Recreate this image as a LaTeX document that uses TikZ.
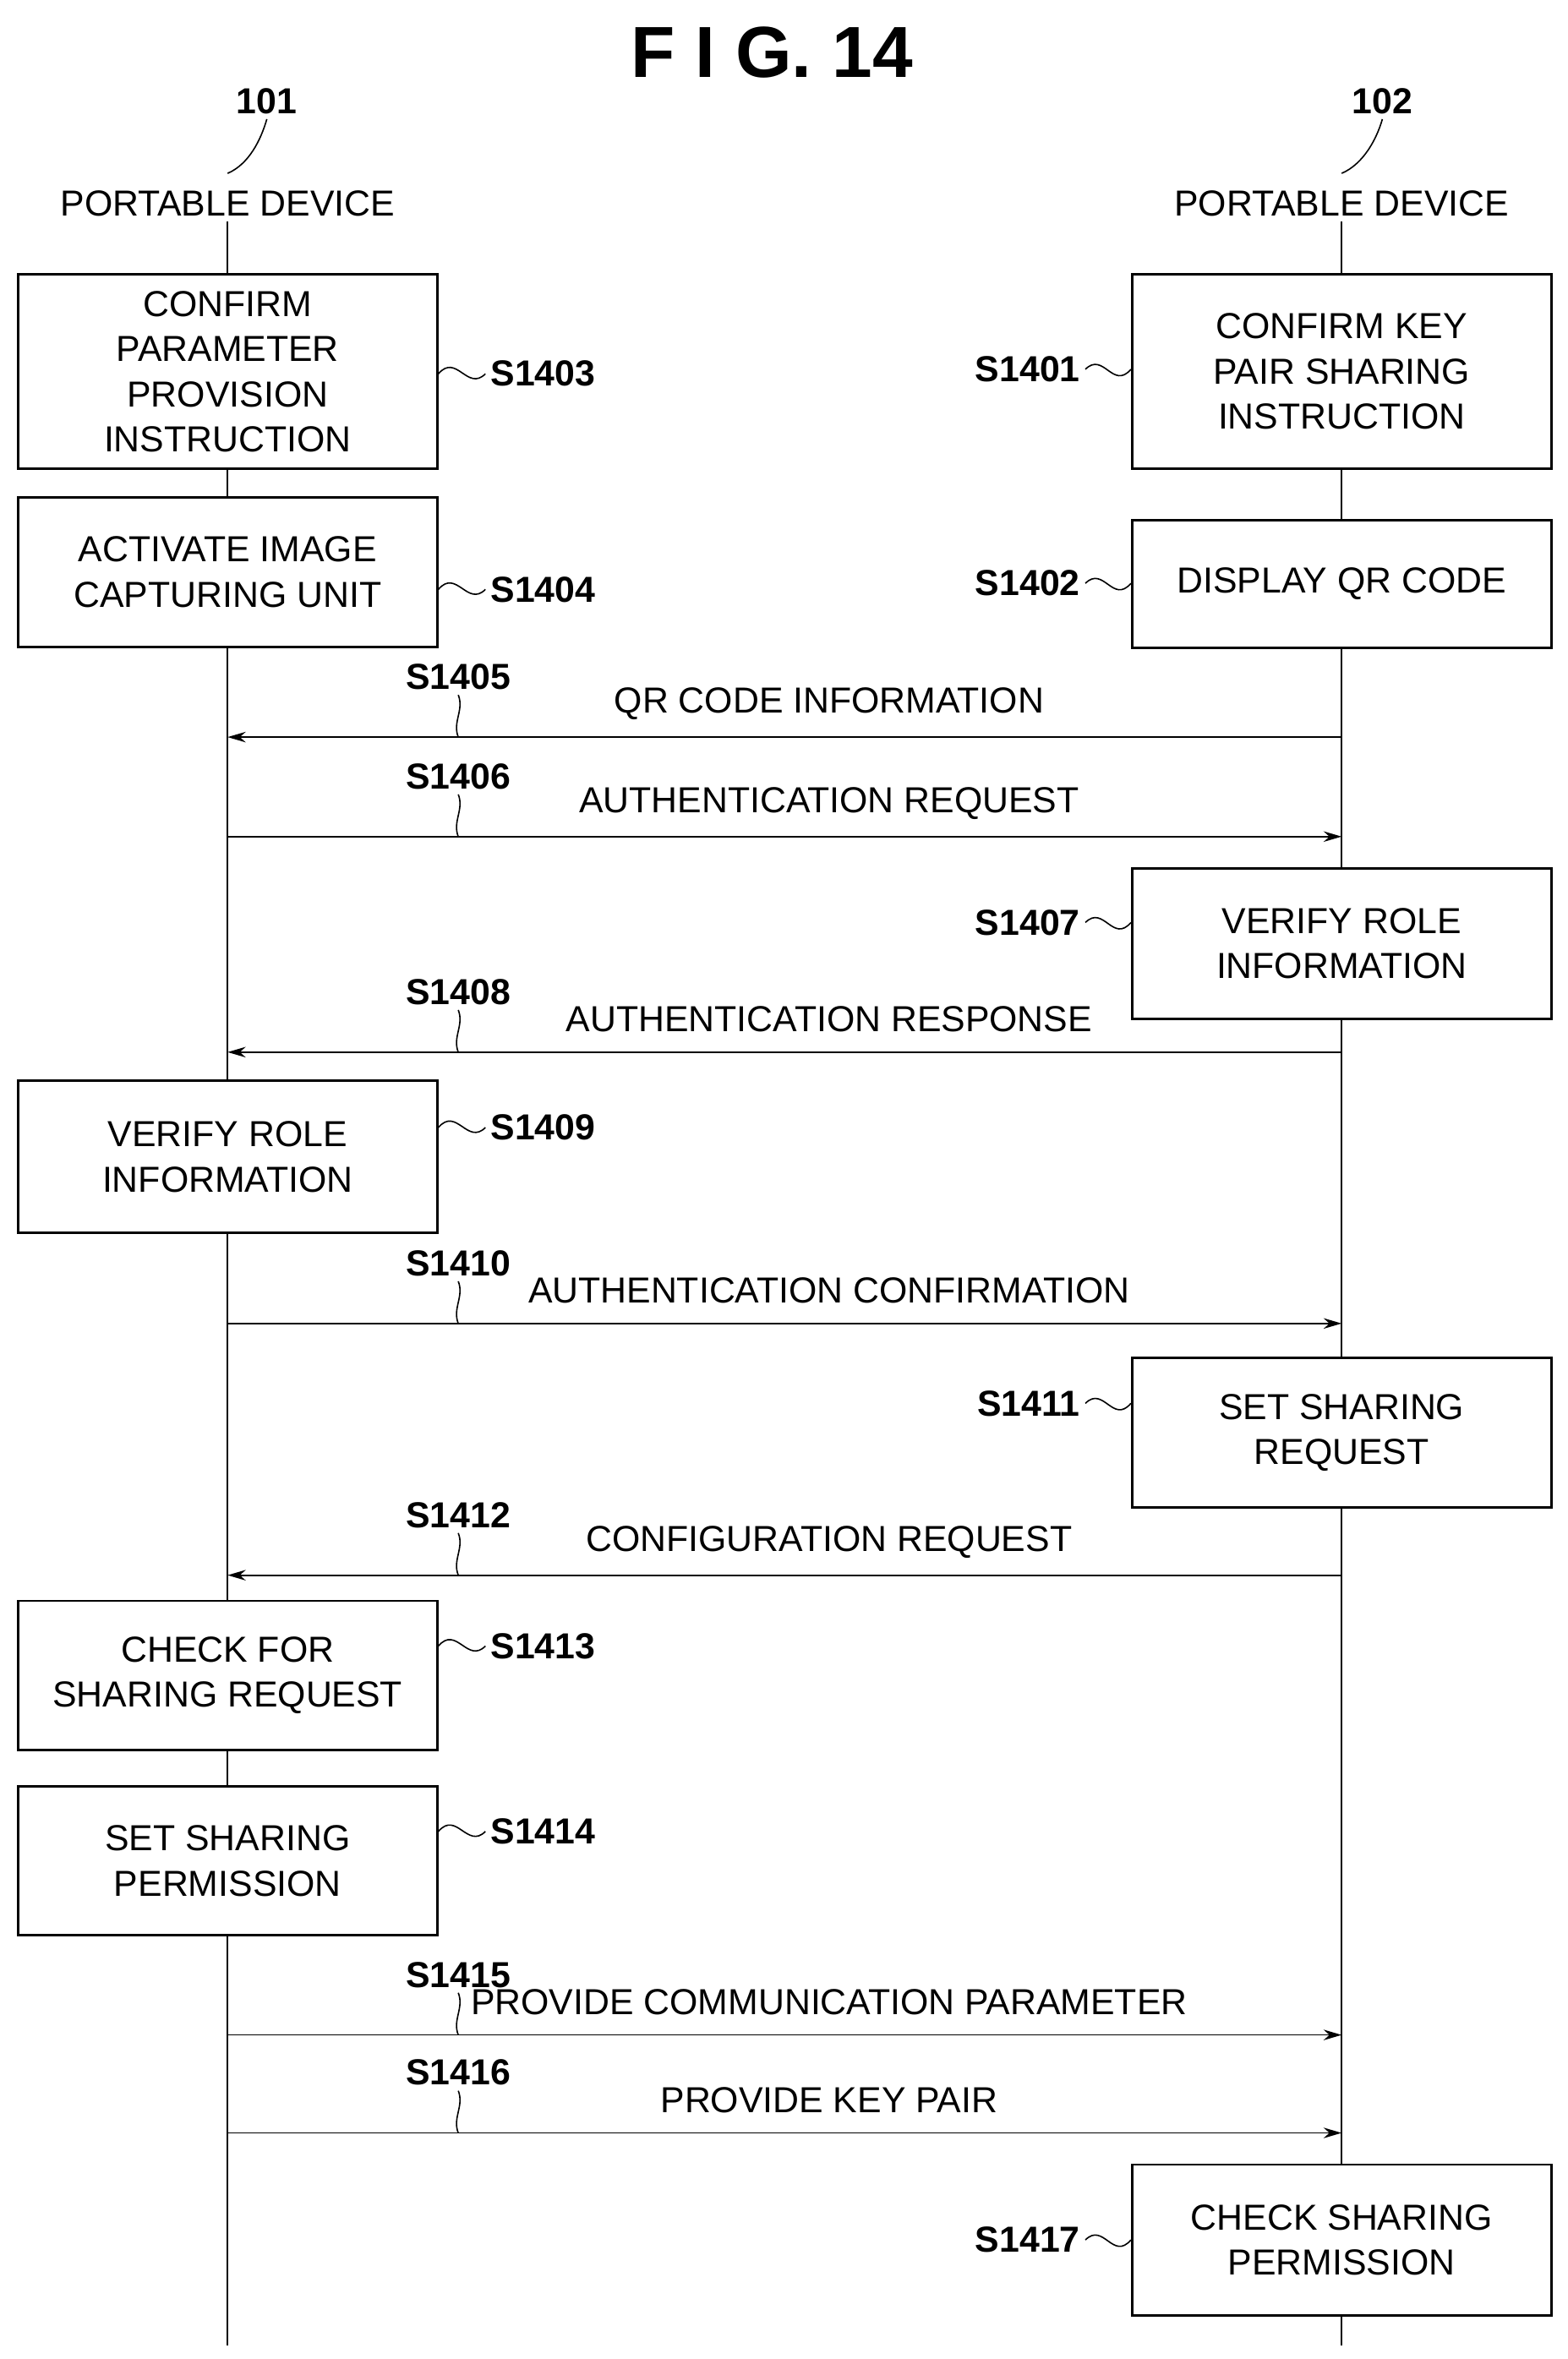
\documentclass[tikz,border=0pt]{standalone}
\usepackage{fontspec}
\setmainfont{Liberation Sans}
\usetikzlibrary{positioning,arrows.meta}

\begin{document}
\begin{tikzpicture}[x=1pt,y=-1pt,
  txt/.style={font=\fontsize{24}{27}\selectfont},
  box/.style={draw,line width=1.6pt,minimum width=278pt,align=center,inner sep=0pt,font=\fontsize{24}{30}\selectfont},
  steplbl/.style={font=\bfseries\fontsize{24}{27}\selectfont},
  msg/.style={line width=1pt,-{Stealth[length=12pt,width=7pt]}},
  lead/.style={line width=0.9pt}]
\useasboundingbox (0,0) rectangle (1040,1565);
% title and headings
\node[font=\bfseries\fontsize{48}{50}\selectfont] (title) at (512,35) {F I G. 14};
\node[steplbl] (n101) at (177,67) {101};
\node[steplbl] (n102) at (917,67) {102};
\node[txt] (h101) at (151,135) {PORTABLE DEVICE};
\node[txt] (h102) at (890,135) {PORTABLE DEVICE};
\coordinate (l1bot) at (151,1556);
\coordinate (l2bot) at (890,1556);
\draw[lead] (n101.south) .. controls +(-4,14) and +(14,-6) .. (151,115);
\draw[lead] (n102.south) .. controls +(-4,14) and +(14,-6) .. (890,115);
% lifelines
\draw[line width=1pt] (h101.south) -- (l1bot);
\draw[line width=1pt] (h102.south) -- (l2bot);
% boxes, device 101
\node[box,fill=white,minimum height=129pt] (b1403) at (151,246.5) {CONFIRM\\PARAMETER\\PROVISION\\INSTRUCTION};
\node[box,fill=white,minimum height=99pt] (b1404) at (151,379.5) {ACTIVATE IMAGE\\CAPTURING UNIT};
\node[box,fill=white,minimum height=101pt] (b1409) at (151,767.5) {VERIFY ROLE\\INFORMATION};
\node[box,fill=white,minimum height=99pt] (b1413) at (151,1111.5) {CHECK FOR\\SHARING REQUEST};
\node[box,fill=white,minimum height=99pt] (b1414) at (151,1234.5) {SET SHARING\\PERMISSION};
% boxes, device 102
\node[box,fill=white,minimum height=129pt] (b1401) at (890,246.5) {CONFIRM KEY\\PAIR SHARING\\INSTRUCTION};
\node[box,fill=white,minimum height=85pt] (b1402) at (890,387.5) {DISPLAY QR CODE};
\node[box,fill=white,minimum height=100pt] (b1407) at (890,626) {VERIFY ROLE\\INFORMATION};
\node[box,fill=white,minimum height=99pt] (b1411) at (890,950.5) {SET SHARING\\REQUEST};
\node[box,fill=white,minimum height=100pt] (b1417) at (890,1486) {CHECK SHARING\\PERMISSION};
% box step labels, left
\foreach \b/\y in {1403/248,1404/391,1409/748,1413/1092,1414/1215}{
  \node[steplbl,anchor=west] (s\b) at (322,\y) {S\b};
  \draw[lead] (b\b.east |- s\b) .. controls +(12,-14) and +(-12,12) .. (s\b.west);
}
% box step labels, right
\foreach \b/\y in {1401/245,1402/387,1407/612,1411/931,1417/1486}{
  \node[steplbl,anchor=east] (s\b) at (720,\y) {S\b};
  \draw[lead] (s\b.east) .. controls +(12,-12) and +(-12,14) .. (b\b.west |- s\b);
}
% messages
\foreach \s/\y/\d/\t in {1405/489/l/QR CODE INFORMATION,1406/555/r/AUTHENTICATION REQUEST,
  1408/698/l/AUTHENTICATION RESPONSE,1410/878/r/AUTHENTICATION CONFIRMATION,
  1412/1045/l/CONFIGURATION REQUEST,1415/1350/r/PROVIDE COMMUNICATION PARAMETER,
  1416/1415/r/PROVIDE KEY PAIR}{
  \coordinate (a\s) at (151,\y);
  \coordinate (c\s) at (890,\y);
  \coordinate (k\s) at (304,\y);
  \node[txt] (m\s) at (550,\y-22) {\t};
  \node[steplbl] (s\s) at (304,\y-40) {S\s};
  \if\d l
    \draw[msg] (c\s) -- (a\s);
  \else
    \draw[msg] (a\s) -- (c\s);
  \fi
  \draw[lead] (s\s.south) .. controls +(4,10) and +(-4,-10) .. (k\s);
}
\end{tikzpicture}
\end{document}
